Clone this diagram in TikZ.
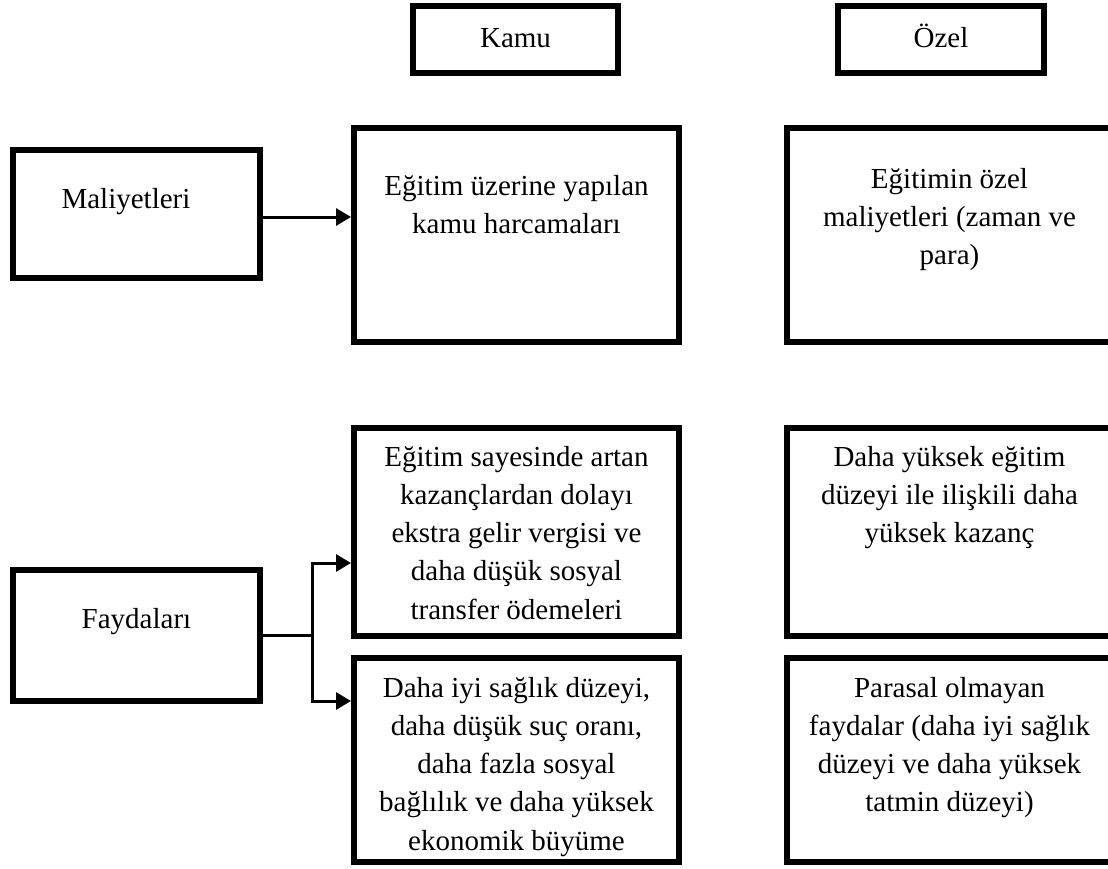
\documentclass[tikz,border=0pt]{standalone}
\usepackage{fontspec}
\setmainfont{Liberation Serif}
\usetikzlibrary{arrows.meta,calc}
\newcommand{\mlines}[1]{\begin{tabular}[t]{@{}c@{}}#1\end{tabular}}
\begin{document}
\begin{tikzpicture}[x=1pt,y=-1pt,
  box/.style={draw,line width=6pt,rectangle,inner sep=0pt},
  head/.style={box,bigfont,minimum height=67pt,text height=20pt,text depth=5pt},
  wide/.style={box,minimum width=325pt},
  side/.style={box,minimum width=247pt},
  conn/.style={line width=3pt},
  arr/.style={conn,-{Triangle[length=15pt,width=17pt]}},
  bigfont/.style={font=\fontsize{29}{38.3}\selectfont},
  txt/.style={bigfont,inner sep=0pt,anchor=base}]
\useasboundingbox (0,0) rectangle (1108,868);
\clip (0,0) rectangle (1108,868);
% header boxes
\node[head,minimum width=205pt] (kamu) at (515.5,39.5) {Kamu};
\node[head,minimum width=206pt] (ozel) at (941,39.5) {Özel};
% row boxes
\node[side,minimum height=128pt] (mal) at (136.5,214) {};
\node[wide,minimum height=214pt] (k1) at (516.5,235) {};
\node[wide,minimum height=214pt] (o1) at (949.5,235) {};
\node[side,minimum height=131pt] (fay) at (136.5,635.5) {};
\node[wide,minimum height=208pt] (k2) at (516.5,532) {};
\node[wide,minimum height=204pt] (k3) at (516.5,760) {};
\node[wide,minimum height=208pt] (o2) at (949.5,532) {};
\node[wide,minimum height=204pt] (o3) at (949.5,760) {};
% texts
\node[txt] (tmal) at (126,208) {Maliyetleri};
\node[txt] (tfay) at (136.5,628) {Faydaları};
\node[txt] (tk1) at (516.5,195) {\mlines{Eğitim üzerine yapılan\\kamu harcamaları}};
\node[txt] (to1) at (949.5,188) {\mlines{Eğitimin özel\\maliyetleri (zaman ve\\para)}};
\node[txt] (tk2) at (516.5,466) {\mlines{Eğitim sayesinde artan\\kazançlardan dolayı\\ekstra gelir vergisi ve\\daha düşük sosyal\\transfer ödemeleri}};
\node[txt] (tk3) at (516.5,697) {\mlines{Daha iyi sağlık düzeyi,\\daha düşük suç oranı,\\daha fazla sosyal\\bağlılık ve daha yüksek\\ekonomik büyüme}};
\node[txt] (to2) at (949.5,466) {\mlines{Daha yüksek eğitim\\düzeyi ile ilişkili daha\\yüksek kazanç}};
\node[txt] (to3) at (949.5,697) {\mlines{Parasal olmayan\\faydalar (daha iyi sağlık\\düzeyi ve daha yüksek\\tatmin düzeyi)}};
% connectors
\draw[arr] ([yshift=-3pt]mal.east) -- ([yshift=-3pt]mal.east -| k1.west);
\coordinate (br) at ($(fay.east)+(49.7,0)$);
\draw[conn] (fay.east) -- (br);
\draw[arr] (br) |- ([yshift=-31pt]k2.west);
\draw[arr] (br) |- ([yshift=59pt]k3.west);
\end{tikzpicture}
\end{document}
